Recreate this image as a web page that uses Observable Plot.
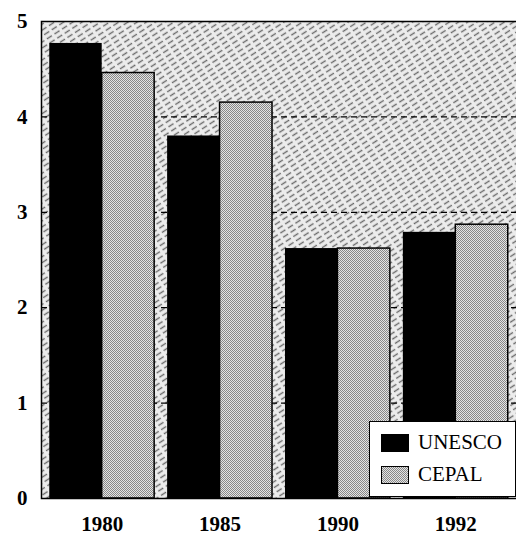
<!DOCTYPE html>
<html>
<head>
<meta charset="utf-8">
<script src="https://cdn.jsdelivr.net/npm/d3@7"></script>
<script src="https://cdn.jsdelivr.net/npm/@observablehq/plot@0.6"></script>
<style>
  body { margin: 0; background: white; }
  #wrap { position: relative; width: 516px; height: 539px; }
  #wrap svg text { font-size: 21px; font-weight: bold; }
  #legend { position: absolute; left: 369px; top: 421px; width: 145px; height: 74px;
    background: white; border: 1.5px solid black; font-family: "Liberation Serif", serif; font-size: 21px; }
  .item { position: absolute; left: 11px; display: flex; align-items: center; }
  .sw { width: 28px; height: 18px; margin-right: 9px; box-sizing: border-box; }
</style>
</head>
<body>
<div id="wrap"></div>
<script>
const years = ["1980", "1985", "1990", "1992"];
const series = ["UNESCO", "CEPAL"];
const unesco = [4.77, 3.80, 2.62, 2.79];
const cepal = [4.46, 4.15, 2.62, 2.87];
const yTicks = [0, 1, 2, 3, 4, 5];
const gridValues = [1, 2, 3, 4];

const W = 516, H = 539, mL = 41, mR = 0, mT = 21, mB = 41;
const xOpts = {type: "band", domain: years, range: [mL, W - mR], paddingInner: 0.11, paddingOuter: 0.07, round: false};
const bw = Plot.scale({x: xOpts}).bandwidth;

const dataU = years.map((year, i) => ({year, value: unesco[i]}));
const dataC = years.map((year, i) => ({year, value: cepal[i]}));

const chart = Plot.plot({
  width: W, height: H,
  marginLeft: mL, marginRight: mR, marginTop: mT, marginBottom: mB,
  style: {fontFamily: "Liberation Serif, serif", fontSize: "21px", fontWeight: "bold", background: "white", color: "black"},
  x: {...xOpts, range: undefined, tickSize: 0, tickPadding: 18, label: null},
  y: {domain: [0, 5], ticks: yTicks, tickSize: 0, tickPadding: 14, label: null, tickFormat: d => String(d)},
  marks: [
    Plot.frame({fill: "url(#bgtex)"}),
    Plot.ruleY(gridValues, {stroke: "black", strokeWidth: 1.3, strokeDasharray: "6,4"}),
    Plot.barY(dataU, {x: "year", y: "value", fill: "black", insetRight: bw / 2}),
    Plot.barY(dataC, {x: "year", y: "value", fill: "url(#dots)", stroke: "black", strokeWidth: 1.5, insetLeft: bw / 2}),
    Plot.frame({stroke: "black", strokeWidth: 1.5, insetRight: -3})
  ]
});

chart.insertAdjacentHTML("afterbegin", `
<defs>
  <pattern id="bgtex" patternUnits="userSpaceOnUse" width="9" height="5" patternTransform="rotate(-33)">
    <rect width="9" height="5" fill="#ececec"/>
    <line x1="0" y1="2.5" x2="6" y2="2.5" stroke="#6a6a6a" stroke-width="1.4"/>
  </pattern>
  <pattern id="dots" patternUnits="userSpaceOnUse" width="2" height="2">
    <rect width="2" height="2" fill="#e4e4e4"/>
    <rect width="1" height="1" fill="#888"/>
    <rect x="1" y="1" width="1" height="1" fill="#888"/>
  </pattern>
</defs>`);

const wrap = document.getElementById("wrap");
wrap.appendChild(chart);

const legend = document.createElement("div");
legend.id = "legend";
const swatches = {
  UNESCO: "background:black;",
  CEPAL: "background: repeating-conic-gradient(#888 0 25%, #e4e4e4 0 50%) 0 0/2px 2px; border:1px solid black;"
};
series.forEach((s, i) => {
  const item = document.createElement("div");
  item.className = "item";
  item.style.top = (8 + i * 32) + "px";
  item.innerHTML = `<div class="sw" style="${swatches[s]}"></div><span>${s}</span>`;
  legend.appendChild(item);
});
wrap.appendChild(legend);
</script>
</body>
</html>
